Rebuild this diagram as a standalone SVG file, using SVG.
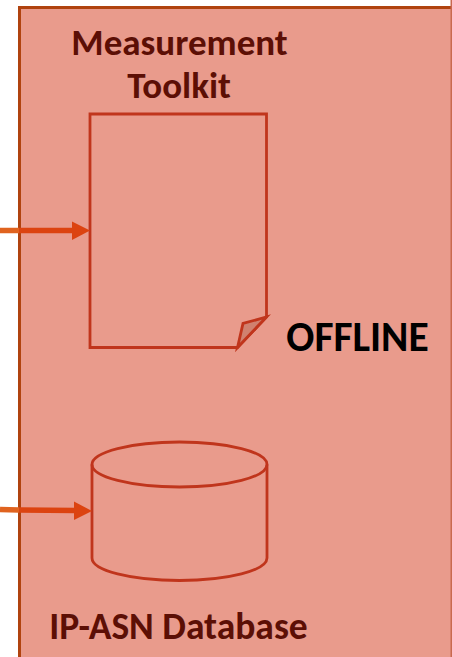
<svg xmlns="http://www.w3.org/2000/svg" width="452" height="657" viewBox="0 0 452 657">
<defs>
<style>
.lbl{font-family:"Carlito","Lato","Open Sans",sans-serif;font-weight:700;text-anchor:middle}
.dark{fill:#5c0f05}
.sh{fill:none;stroke:#c0351c;stroke-width:2.800;stroke-linejoin:miter}
.arr{stroke:#dc4310;stroke-width:5.500;fill:none}
.head{fill:#dc4310}
</style>
</defs>
<g id="panel">
<rect x="19.500" y="7.500" width="440" height="660" fill="#e99b8c" stroke="#b0430f" stroke-width="3"/>
<rect x="450.500" y="0" width="1.500" height="657" fill="#c9694f"/>
<text class="lbl dark" x="179.500" y="54.500" font-size="37">Measurement</text>
<text class="lbl dark" x="179" y="98" font-size="37">Toolkit</text>
<text class="lbl dark" x="178.500" y="639" font-size="37.500">IP-ASN Database</text>
<text class="lbl" x="357.500" y="351" font-size="41.500" fill="#000">OFFLINE</text>
</g>
<g id="document">
<path class="sh" d="M90 114H266.500V317L237.500 347.500H90Z"/>
<path d="M237.500 347.500L243 323.500L266.500 317Z" fill="#d0816f" stroke="#c0351c" stroke-width="2.800"/>
</g>
<g id="database">
<path class="sh" d="M92 464.500C92 452 131 442 179.500 442C228 442 267 452 267 464.500V558C267 570.500 228 580.500 179.500 580.500C131 580.500 92 570.500 92 558Z"/>
<path class="sh" d="M92 464.500C92 477 131 487 179.500 487C228 487 267 477 267 464.500"/>
</g>
<g id="connectors">
<path d="M0 230.500H19" stroke="#e0631f" stroke-width="5.500" fill="none"/>
<path class="arr" d="M19 230.500H74"/>
<path class="head" d="M72 221.500L90 230.500L72 240Z"/>
<path d="M0 509.500L19 510" stroke="#e0631f" stroke-width="5.500" fill="none"/>
<path class="arr" d="M19 510L76 510.500"/>
<path class="head" d="M74 501.500L92 511L74 520Z"/>
</g>
</svg>
